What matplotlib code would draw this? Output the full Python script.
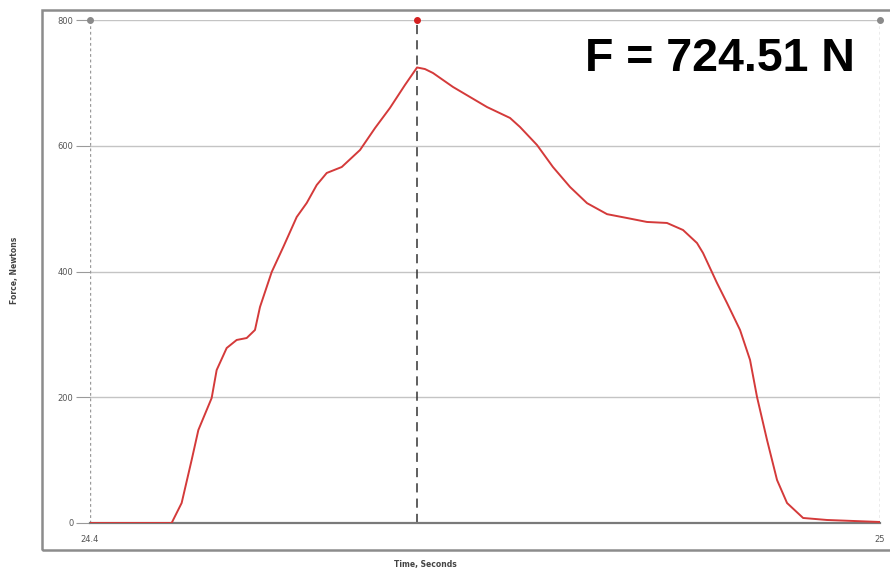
"""Force-time trace with peak marker."""

import matplotlib
matplotlib.use("Agg")
import matplotlib.pyplot as plt
from matplotlib.patches import Rectangle

# data
time_s = [24.4, 24.462, 24.4696, 24.4772, 24.4823, 24.4924, 24.4962, 24.5038,
          24.5114, 24.5190, 24.5253, 24.5291, 24.5380, 24.5468, 24.5570, 24.5646,
          24.5722, 24.5798, 24.5912, 24.6051, 24.6165, 24.6278, 24.6392, 24.6484,
          24.6544, 24.6605, 24.6757, 24.7015, 24.7190, 24.7266, 24.7395, 24.7516,
          24.7646, 24.7775, 24.7927, 24.8078, 24.8230, 24.8382, 24.8504, 24.8610,
          24.8656, 24.8762, 24.8838, 24.8937, 24.9013, 24.9066, 24.9142, 24.9218,
          24.9294, 24.9416, 24.9597, 25.0]
force_n = [0, 0, 31.8, 100.2, 147.9, 198.8, 243.3, 278.3,
           291.1, 294.2, 307.0, 343.5, 399.2, 439.0, 486.7, 509.0,
           537.6, 556.7, 566.2, 593.3, 628.2, 660.1, 696.6, 724.51,
           722.0, 715.7, 693.5, 661.6, 644.2, 629.8, 601.2, 566.2,
           534.4, 508.7, 491.2, 485.1, 478.8, 477.2, 466.0, 445.3,
           429.4, 381.7, 349.9, 307.0, 259.3, 200.4, 132.0, 68.4,
           31.8, 8.0, 4.8, 1.6]
peak_time = 24.6484
peak_force = 724.51
y_ticks = [0, 200, 400, 600, 800]
x_ticks = [24.4, 25.0]
x_tick_labels = ["24.4", "25"]

GRID = "#c4c4c4"
AXIS = "#9a9a9a"

fig = plt.figure(figsize=(8.9, 5.75), dpi=100)
fig.patch.set_facecolor("white")

# outer frame
fig.add_artist(Rectangle((42 / 890, 1 - 550 / 575), 860 / 890, 540 / 575,
                         transform=fig.transFigure, fill=False,
                         edgecolor="#8c8c8c", linewidth=1.8))

ax = fig.add_axes([90 / 890, 1 - 523 / 575, 790 / 890, 503 / 575])
ax.set_xlim(24.4, 25.0)
ax.set_ylim(0, 800)

for v in y_ticks[1:]:
    ax.axhline(v, color=GRID, linewidth=1.0, zorder=1)

for side in ["top", "right", "left"]:
    ax.spines[side].set_visible(False)
ax.spines["bottom"].set_color("#7a7a7a")
ax.spines["bottom"].set_linewidth(1.6)

ax.axvline(24.4, color=AXIS, linestyle=(0, (2, 2)), linewidth=1.0, zorder=1)
ax.axvline(25.0, color=AXIS, linestyle=(0, (2, 2)), linewidth=1.0, zorder=1)
ax.axvline(peak_time, color="#333333", linestyle=(0, (6, 4)), linewidth=1.1, zorder=2)

ax.plot(time_s, force_n, color="#d43a3a", linewidth=1.4, zorder=3,
        solid_joinstyle="round", solid_capstyle="round")

ax.plot([24.4, 25.0], [800, 800], "o", color="#8a8a8a", markersize=4,
        clip_on=False, zorder=4)
ax.plot([peak_time], [800], "o", color="#d42020", markersize=4,
        clip_on=False, zorder=4)

ax.set_yticks(y_ticks)
ax.set_yticklabels([str(v) for v in y_ticks])
ax.set_xticks(x_ticks)
ax.set_xticklabels(x_tick_labels)
ax.tick_params(axis="y", length=10, color=AXIS, labelsize=6, labelcolor="#555555", pad=2)
ax.tick_params(axis="x", length=0, labelsize=6, labelcolor="#555555", pad=9)

fig.text(15 / 890, 1 - 270 / 575, "Force, Newtons", rotation=90, ha="center",
         va="center", fontsize=5.5, fontweight="bold", color="#444444")
fig.text(425 / 890, 1 - 565 / 575, "Time, Seconds", ha="center", va="center",
         fontsize=5.5, fontweight="bold", color="#444444")

fig.text(855 / 890, 1 - 59 / 575, "F = 724.51 N", ha="right", va="center",
         fontsize=33.5, fontweight="heavy", family="Liberation Sans", color="black")

fig.savefig("out.png", dpi=100, facecolor="white")
